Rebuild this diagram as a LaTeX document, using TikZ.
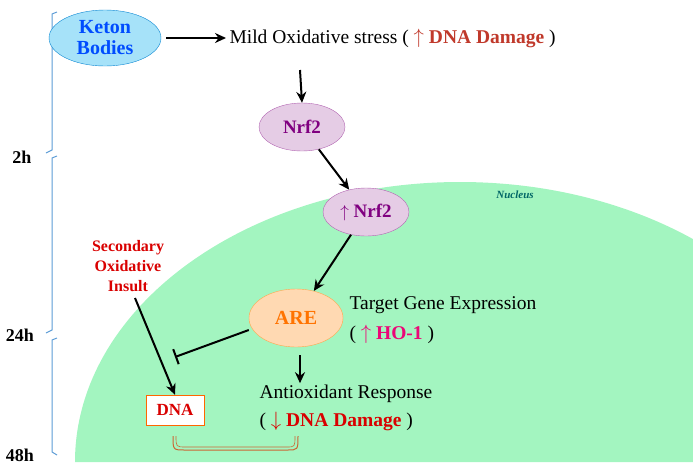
\documentclass[tikz,border=0pt]{standalone}
\usepackage{fontspec}
\setmainfont{Liberation Serif}
\usetikzlibrary{arrows.meta,shapes.geometric}
\definecolor{nuc}{HTML}{A3F5C0}
\definecolor{dred}{HTML}{C0392B}
\definecolor{bl}{HTML}{5B9BD5}
\begin{document}
\begin{tikzpicture}[x=1pt,y=-1pt,
 ell/.style={ellipse,draw,minimum width=#1,inner sep=0pt,font=\bfseries\fontsize{19}{20}\selectfont},
 arr/.style={-{Stealth[length=11pt,width=10pt]},line width=2pt},
 txt/.style={font=\fontsize{19.5}{22}\selectfont,align=center}]
\useasboundingbox (0,0) rectangle (693,472);
\begin{scope}
\clip (0,0) rectangle (693,472);
\fill[nuc] (75,462) arc[start angle=180,end angle=360,x radius=385,y radius=280] -- cycle;
\end{scope}
% brackets
\draw[bl,line width=1pt] (57,12) -- (52,14) -- (52,150) -- (46,153);
\draw[bl,line width=1pt] (57,156) -- (52,158) -- (52,330) -- (46,333);
\draw[bl,line width=1pt] (57,338) -- (52,340) -- (52,452) -- (57,455);
\node[font=\bfseries\fontsize{18}{20}\selectfont] (h2) at (22,157) {2h};
\node[font=\bfseries\fontsize{18}{20}\selectfont] (h24) at (20,335) {24h};
\node[font=\bfseries\fontsize{18}{20}\selectfont] (h48) at (20,455) {48h};
\node[ell=112pt,minimum height=56pt,draw=cyan!70!blue,fill=cyan!35,text=blue!70!cyan,align=center,font=\bfseries\fontsize{20}{21}\selectfont] (kb) at (105,38) {Keton\\Bodies};
\node[txt,anchor=west] (mild) at (226,38) {Mild Oxidative stress ( {\color{dred}$\uparrow$ \bfseries DNA Damage} )};
\node[ell=86pt,minimum height=48pt,draw=violet!60,fill=violet!20,text=violet] (n1) at (302,127) {Nrf2};
\node[ell=86pt,minimum height=48pt,draw=violet!60,fill=violet!20,text=violet] (n2) at (366,212) {$\uparrow$ Nrf2};
\node[ell=94pt,minimum height=58pt,draw=orange!70,fill=orange!30,text=orange!90!red,font=\bfseries\fontsize{20}{21}\selectfont] (are) at (296,318) {ARE};
\node[txt,anchor=west] (tge) at (346,305) {Target Gene Expression};
\node[txt,anchor=west] (ho) at (346,334) {( {\color{magenta!80!red}$\uparrow$ \bfseries HO-1} )};
\node[txt,text=red!85!black,font=\bfseries\fontsize{16}{20}\selectfont] (sec) at (128,266) {Secondary\\Oxidative\\Insult};
\node[draw=orange!80!red,fill=white,minimum width=58pt,minimum height=30pt,text=red!85!black,font=\bfseries\fontsize{17}{18}\selectfont] (dna) at (175,410) {DNA};
\node[txt,anchor=west] (ar) at (256,394) {Antioxidant Response};
\node[txt,anchor=west] (dd) at (256,421) {( {\color{red!85!black}$\downarrow$ \bfseries DNA Damage} )};
\node[font=\itshape\bfseries\fontsize{11}{12}\selectfont,text=teal!80!black] (nuc) at (515,195) {Nucleus};
\draw[arr] (kb.east)++(5,0) -- (mild.west);
\draw[arr] (300,70) -- (n1.north);
\draw[arr] (n1) -- (n2);
\draw[arr] (n2) -- (are);
\draw[arr] (are.south) ++(4,8) -- ++(0,28);
\draw[arr] (135,298) -- (dna.north);
\draw[-{Bar[width=16pt]},line width=2pt] (are.west) ++(0,12) -- (175,357);
\draw[brown!80!red,line width=1pt] (173,436) .. controls (173,450) .. (185,450) -- (287,450) .. controls (298,450) .. (298,436);
\draw[brown!80!red,line width=0.6pt] (176,436) .. controls (176,447) .. (186,447) -- (286,447) .. controls (295,447) .. (295,436);
\end{tikzpicture}
\end{document}
